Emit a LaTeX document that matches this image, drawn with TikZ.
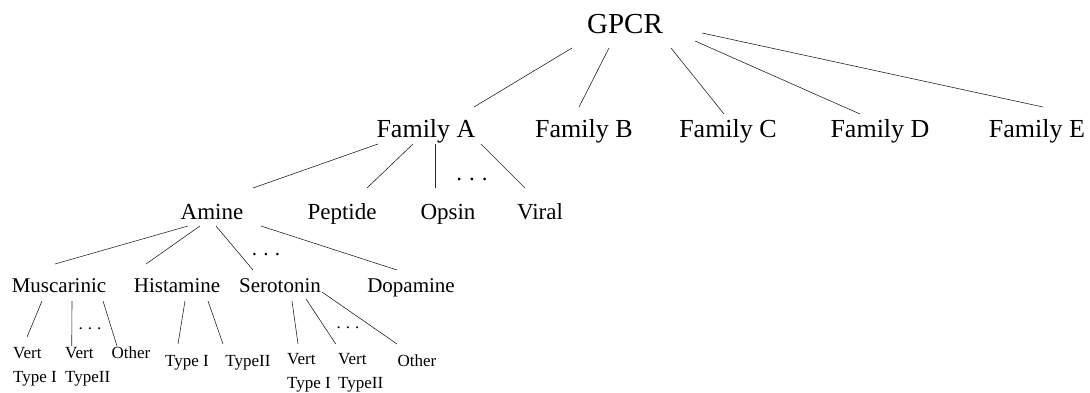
\documentclass[tikz,border=0pt]{standalone}
\usepackage{fontspec}
\setmainfont{Liberation Serif}
\usepackage{tikz}
\usetikzlibrary{calc}
\newcommand{\spdots}{.\hspace{0.3em}.\hspace{0.3em}.}
\tikzset{
  lvl/.style={anchor=base, inner sep=0pt, text=black},
  rootlbl/.style={lvl, font=\fontsize{29}{29}\selectfont},
  famlbl/.style={lvl, font=\fontsize{26}{26}\selectfont},
  sublbl/.style={lvl, font=\fontsize{23}{23}\selectfont},
  reclbl/.style={lvl, font=\fontsize{21}{21}\selectfont},
  leaflbl/.style={lvl, font=\fontsize{17}{24}\selectfont, align=left},
  branch/.style={line width=0.6pt, draw=black!85}
}

\begin{document}
\begin{tikzpicture}[x=1pt,y=-1pt]
  \useasboundingbox (0,0) rectangle (1090,392);

  % top
  \node[rootlbl] (gpcr) at (625,33) {GPCR};

  % families
  \node[famlbl] (famA) at (426,137) {Family A};
  \node[famlbl] (famB) at (584,137) {Family B};
  \node[famlbl] (famC) at (728,137) {Family C};
  \node[famlbl] (famD) at (880,137) {Family D};
  \node[famlbl] (famE) at (1037,137) {Family E};

  % family A
  \node[sublbl] (amine) at (212,219) {Amine};
  \node[sublbl] (peptide) at (342,219) {Peptide};
  \node[sublbl] (opsin) at (448,219) {Opsin};
  \node[sublbl] (viral) at (540,219) {Viral};
  \node[sublbl] (dotsA) at (472,180) {\spdots};

  % amine
  \node[reclbl] (musc) at (59,292) {Muscarinic};
  \node[reclbl] (hist) at (177,292) {Histamine};
  \node[reclbl] (sero) at (280,292) {Serotonin};
  \node[reclbl] (dopa) at (411,292) {Dopamine};
  \node[reclbl] (dotsAm) at (266,255) {\spdots};

  % receptor types (base = last line)
  \node[leaflbl, anchor=base west] (mvert1) at (13,382) {Vert\\Type I};
  \node[leaflbl, anchor=base west] (mvert2) at (65,382) {Vert\\TypeII};
  \node[leaflbl] (mother) at (131,358) {Other};
  \node[leaflbl] (dotsM) at (90,329) {\spdots};
  \node[leaflbl] (htype1) at (187,366) {Type I};
  \node[leaflbl] (htype2) at (248,366) {TypeII};
  \node[leaflbl, anchor=base west] (svert1) at (287,388) {Vert\\Type I};
  \node[leaflbl, anchor=base west] (svert2) at (338,388) {Vert\\TypeII};
  \node[leaflbl] (sother) at (417,366) {Other};
  \node[leaflbl] (dotsS) at (348,328) {\spdots};

  % branches: parent/child/offset at parent/offset at child
  \foreach \p/\c/\a/\b in {
    gpcr/famA/{-53,15}/{48,-30}, gpcr/famB/{-16,15}/{-5,-30},
    gpcr/famC/{46,15}/{-4,-23}, gpcr/famD/{70,8}/{-20,-23},
    gpcr/famE/{77,0}/{6,-30},
    famA/amine/{-48,7}/{41,-31}, famA/peptide/{-13,7}/{25,-31},
    famA/opsin/{9,7}/{-13,-31}, famA/viral/{55,7}/{-15,-31},
    amine/musc/{-24,7}/{-4,-28}, amine/hist/{-12,7}/{-31,-28},
    amine/sero/{4,7}/{-27,-22}, amine/dopa/{49,7}/{-14,-22},
    musc/mvert1/{-17,9}/{-8,-45}, musc/mvert2/{13,9}/{-16,-36},
    musc/mother/{44,9}/{-14,-12},
    hist/htype1/{8,9}/{-9,-22}, hist/htype2/{31,9}/{-25,-22},
    sero/svert1/{12,9}/{-11,-44}, sero/svert2/{26,7}/{-25,-44},
    sero/sother/{42,0}/{-20,-22}} {
    \draw[branch] ([shift={(\a)}]\p.base) -- ([shift={(\b)}]\c.base);
  }
\end{tikzpicture}
\end{document}
